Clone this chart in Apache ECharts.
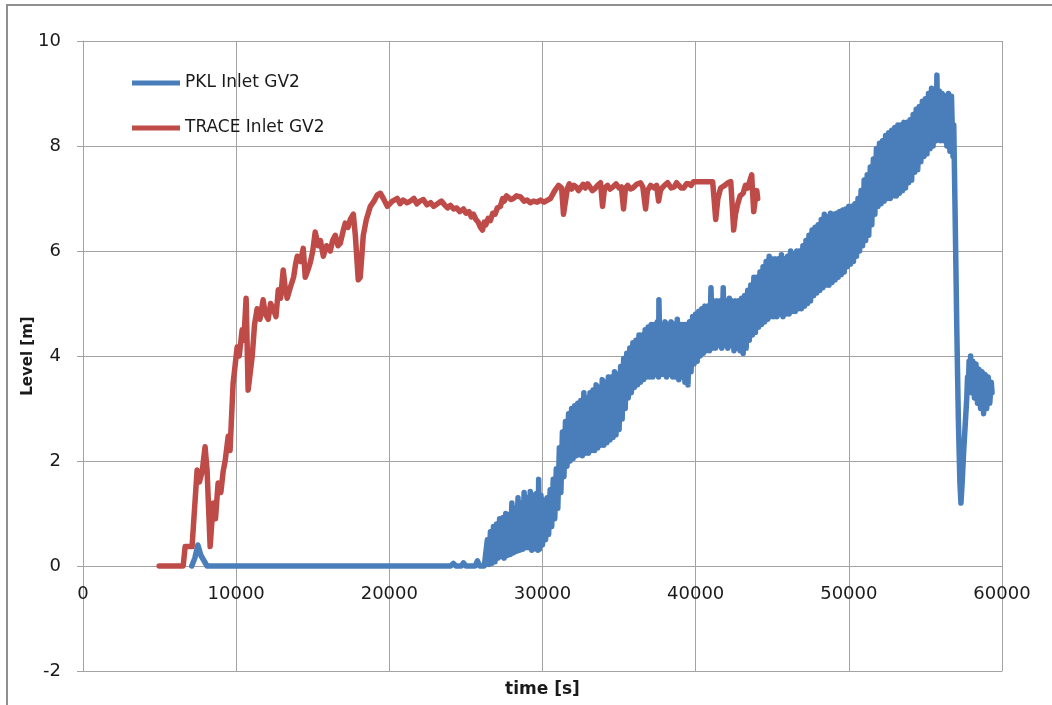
<!DOCTYPE html>
<html>
<head>
<meta charset="utf-8">
<script src="https://cdn.jsdelivr.net/npm/echarts@6/dist/echarts.min.js"></script>
<style>html,body{margin:0;padding:0;background:#fff;}#c{width:1052px;height:705px;}</style>
</head>
<body>
<div id="c"></div>
<script>
var seriesNames = ['PKL Inlet GV2', 'TRACE Inlet GV2'];
var xTicks = [0, 10000, 20000, 30000, 40000, 50000, 60000];
var yTicks = [-2, 0, 2, 4, 6, 8, 10];

// PKL Inlet GV2 : [time s, level m]
var pkl = [
[7100,0],[7300,0.15],[7500,0.4],[7700,0.2],[7900,0.1],[8100,0],[24000,0],[24180,0.05],[24350,0],[24700,0],[24840,0.06],[25000,0],[25600,0],[25750,0.1],[25900,0],[26200,0],
[26300,0.0],[26400,0.5],[26500,0.03],[26600,0.65],[26700,0.05],[26800,0.75],[26900,0.08],[27000,0.8],
[27100,0.15],[27200,0.9],[27300,0.18],[27400,0.92],[27500,0.15],[27600,1.0],[27700,0.2],[27800,0.98],[27900,0.22],[28000,1.2],
[28100,0.25],[28200,1.1],[28300,0.28],[28400,1.3],[28500,0.3],[28600,1.2],[28700,0.32],[28800,1.4],[28900,0.35],[29000,1.3],
[29100,0.35],[29200,1.42],[29300,0.3],[29400,1.35],[29500,0.33],[29600,1.38],[29700,0.3],[29750,1.65],[29800,0.32],[29900,1.35],
[30000,0.4],[30100,1.25],[30200,0.5],[30300,1.3],[30400,0.6],[30500,1.45],[30600,0.75],[30700,1.65],[30800,0.9],[30900,1.85],
[31000,1.1],[31100,2.25],[31200,1.4],[31300,2.55],[31400,1.7],[31500,2.75],[31600,1.9],[31700,2.9],[31800,2.0],[31900,3.0],
[32000,2.05],[32100,3.05],[32200,2.1],[32300,3.1],[32400,2.12],[32500,3.15],[32600,2.1],[32700,3.3],[32800,2.15],[32900,3.2],
[33000,2.15],[33100,3.3],[33200,2.2],[33300,3.35],[33400,2.2],[33500,3.45],[33600,2.25],[33700,3.4],[33800,2.3],[33900,3.55],
[34000,2.3],[34100,3.5],[34200,2.35],[34300,3.6],[34400,2.4],[34500,3.6],[34600,2.45],[34700,3.7],[34800,2.5],[34900,3.65],
[35000,2.6],[35100,3.8],[35200,2.8],[35300,3.95],[35400,3.0],[35500,4.05],[35600,3.2],[35700,4.15],[35800,3.3],[35900,4.25],
[36000,3.4],[36100,4.3],[36200,3.45],[36300,4.4],[36400,3.5],[36500,4.4],[36600,3.55],[36700,4.5],[36800,3.6],[36900,4.55],
[37000,3.6],[37100,4.6],[37200,3.6],[37300,4.6],[37400,3.65],[37500,4.65],[37580,3.6],[37600,5.07],[37700,3.65],[37800,4.6],[37900,3.65],
[38000,4.65],[38100,3.6],[38200,4.6],[38300,3.65],[38400,4.65],[38500,3.6],[38600,4.6],[38700,3.6],[38800,4.7],[38900,3.55],
[39000,4.6],[39100,3.6],[39200,4.6],[39300,3.5],[39400,4.6],[39500,3.45],[39600,4.65],[39700,3.7],[39800,4.75],[39900,3.85],
[40000,4.8],[40100,3.9],[40200,4.85],[40300,4.0],[40400,4.9],[40500,4.05],[40600,4.95],[40700,4.1],[40800,4.95],[40900,4.1],
[41000,5.3],[41100,4.15],[41200,5.05],[41300,4.15],[41400,5.05],[41500,4.2],[41600,5.05],[41700,4.15],[41800,5.3],[41900,4.2],
[42000,5.05],[42100,4.15],[42200,5.1],[42300,4.2],[42400,5.05],[42500,4.1],[42600,5.05],[42700,4.15],[42800,5.05],[42900,4.1],
[43000,5.1],[43100,4.05],[43200,5.15],[43300,4.15],[43400,5.25],[43500,4.3],[43600,5.35],[43700,4.4],[43800,5.5],[43900,4.45],
[44000,5.5],[44100,4.55],[44200,5.6],[44300,4.6],[44400,5.7],[44500,4.65],[44600,5.8],[44700,4.7],[44800,5.9],[44900,4.75],
[45000,5.85],[45100,4.75],[45200,5.85],[45300,4.75],[45400,5.85],[45500,4.8],[45600,5.93],[45700,4.75],[45800,5.85],[45900,4.8],
[46000,5.9],[46100,4.8],[46200,6.0],[46300,4.85],[46400,5.95],[46500,4.85],[46600,6.0],[46700,4.9],[46800,6.0],[46900,4.9],
[47000,6.1],[47100,4.95],[47200,6.2],[47300,5.0],[47400,6.3],[47500,5.05],[47600,6.4],[47700,5.15],[47800,6.45],[47900,5.2],
[48000,6.5],[48100,5.25],[48200,6.6],[48300,5.3],[48400,6.7],[48500,5.35],[48600,6.65],[48700,5.35],[48800,6.72],[48900,5.4],
[49000,6.7],[49100,5.45],[49200,6.72],[49300,5.5],[49400,6.75],[49500,5.55],[49600,6.78],[49700,5.6],[49800,6.8],[49900,5.7],
[50000,6.85],[50100,5.75],[50200,6.85],[50300,5.8],[50400,6.9],[50500,5.9],[50600,7.0],[50700,6.0],[50800,7.15],[50900,6.1],
[51000,7.35],[51100,6.2],[51200,7.45],[51300,6.3],[51400,7.6],[51500,6.5],[51600,7.75],[51700,6.7],[51800,7.95],[51900,6.85],
[52000,8.05],[52100,6.9],[52200,8.1],[52300,6.95],[52400,8.2],[52500,7.0],[52600,8.25],[52700,7.0],[52800,8.3],[52900,7.05],
[53000,8.35],[53100,7.05],[53200,8.4],[53300,7.1],[53400,8.4],[53500,7.15],[53600,8.45],[53700,7.2],[53800,8.45],[53900,7.3],
[54000,8.5],[54100,7.35],[54200,8.6],[54300,7.5],[54400,8.7],[54500,7.55],[54600,8.75],[54700,7.7],[54800,8.85],[54900,7.8],
[55000,8.9],[55100,7.85],[55200,9.0],[55300,7.95],[55400,9.1],[55500,8.0],[55600,9.05],[55700,8.1],[55750,9.35],[55800,8.15],[55900,9.05],
[56000,8.1],[56100,9.0],[56200,8.1],[56300,8.95],[56400,8.0],[56500,9.0],[56600,7.9],[56700,8.95],[56800,7.8],[56850,8.4],
[56950,6.5],[57050,4.5],[57150,2.8],[57250,1.6],[57320,1.2],[57400,1.6],[57500,2.2],[57600,2.7],[57700,3.2],[57750,3.6],
[57800,3.3],[57850,3.9],[57900,3.4],[57950,4.0],[58000,3.3],[58100,3.9],[58200,3.2],[58300,3.85],[58400,3.1],[58500,3.75],
[58600,3.0],[58700,3.7],[58800,2.9],[58900,3.65],[59000,3.0],[59100,3.6],[59200,3.1],[59300,3.5],[59350,3.3]
];

// TRACE Inlet GV2 : [time s, level m]
var trace = [
[4970,0],[6540,0],[6670,0.37],[7120,0.37],[7450,1.83],[7600,1.6],[7780,1.8],[7970,2.27],[8100,1.83],[8300,0.37],[8500,1.2],
[8650,0.9],[8820,1.58],[9000,1.4],[9150,1.8],[9280,2.0],[9480,2.47],[9600,2.2],[9800,3.48],[10065,4.17],[10200,4.0],[10390,4.5],
[10500,4.3],[10650,5.1],[10780,3.35],[11050,4.0],[11200,4.6],[11370,4.9],[11550,4.7],[11760,5.07],[11900,4.8],[12090,4.7],[12250,5.0],[12420,4.9],[12600,4.75],
[12750,5.26],[12900,5.1],[13070,5.64],[13200,5.3],[13330,5.1],[13530,5.3],[13750,5.5],[13880,5.75],[13990,5.9],[14200,5.8],[14380,6.05],[14510,5.5],[14700,5.65],[14840,5.78],
[15000,6.0],[15160,6.36],[15360,6.1],[15500,6.2],[15690,5.9],[15900,6.1],[16140,6.0],[16300,6.2],[16470,6.3],[16650,6.1],[16800,6.15],[17000,6.4],[17120,6.53],[17300,6.45],[17450,6.6],[17650,6.7],
[17780,6.3],[17970,5.45],[18100,5.5],[18300,6.3],[18500,6.6],[18760,6.85],[19000,6.95],[19220,7.07],[19410,7.1],[19610,7.0],
[19870,6.85],[20200,6.95],[20520,7.0],[20700,6.9],[20900,6.97],[21150,6.92],[21370,6.95],[21600,7.0],[21800,6.9],[22000,6.95],[22220,6.98],[22450,6.88],[22700,6.92],[22900,6.85],[23140,6.9],[23400,6.95],[23600,6.88],
[23800,6.82],[23990,6.87],[24200,6.8],[24400,6.82],[24600,6.75],[24840,6.8],[25000,6.72],[25200,6.75],[25350,6.65],[25490,6.7],[25650,6.6],[25800,6.55],[25950,6.45],[26080,6.4],[26200,6.55],[26300,6.5],[26450,6.62],[26600,6.58],[26750,6.72],[26900,6.7],
[27050,6.82],[27250,6.85],[27400,7.0],[27500,6.95],[27650,7.05],[27780,7.08],[27950,6.98],[28100,7.0],[28300,7.05],[28560,7.03],[28800,6.95],[29000,6.97],[29200,6.92],[29410,6.95],[29650,6.93],[29870,6.97],[30100,6.93],[30330,6.97],[30520,7.0],
[30800,7.15],[31050,7.25],[31250,7.2],[31370,6.7],[31630,7.2],[31750,7.28],[31900,7.18],[32050,7.25],[32200,7.22],[32350,7.15],[32480,7.16],[32650,7.27],[32800,7.2],[32950,7.28],[33100,7.22],
[33250,7.15],[33400,7.18],[33600,7.25],[33790,7.3],[33920,6.85],[34050,7.2],[34250,7.25],[34400,7.18],[34600,7.22],[34800,7.28],[35000,7.2],[35150,7.22],[35290,6.8],[35420,7.2],[35560,7.25],[35750,7.18],[35900,7.2],[36150,7.27],[36400,7.3],
[36550,7.22],[36730,6.8],[36850,7.15],[37060,7.25],[37300,7.2],[37450,7.25],[37580,6.95],[37700,7.15],[37800,7.2],[38000,7.26],[38170,7.3],[38400,7.2],[38600,7.22],[38750,7.3],[38900,7.25],[39050,7.2],[39220,7.2],[39400,7.28],[39550,7.28],[39700,7.25],
[39870,7.32],[40500,7.32],[41110,7.32],[41200,7.0],[41310,6.6],[41450,7.0],[41630,7.2],[41900,7.25],[42100,7.3],[42290,7.32],[42380,6.9],[42480,6.4],[42600,6.7],[42750,6.9],[42900,7.05],[43100,7.1],
[43250,7.25],[43400,7.2],[43550,7.35],[43660,7.45],[43700,7.2],[43790,6.75],[43900,7.0],[43990,7.15],[44050,7.0]
];

var fmt = function (v) { return String(v); };
var chart = echarts.init(document.getElementById('c'), null, {renderer: 'canvas'});
var gridColor = '#a3a3a3';
var txt = '#1a1a1a';
var xMin = xTicks[0], xMax = xTicks[xTicks.length - 1];
chart.setOption({
  animation: false,
  backgroundColor: '#ffffff',
  textStyle: {fontFamily: 'DejaVu Sans'},
  graphic: [{
    type: 'rect', silent: true,
    shape: {x: 7, y: 5, width: 2000, height: 2000},
    style: {fill: 'none', stroke: '#8f8f8f', lineWidth: 2}
  }],
  grid: {left: 83, right: 50, top: 41, bottom: 34, containLabel: false, outerBoundsMode: 'none'},
  legend: {
    orient: 'vertical',
    left: 127, top: 68,
    itemWidth: 48, itemHeight: 5, itemGap: 25,
    icon: 'rect',
    data: seriesNames,
    textStyle: {fontFamily: 'DejaVu Sans', fontSize: 17, color: txt, lineHeight: 20}
  },
  xAxis: [{
    type: 'value', min: xMin, max: xMax, interval: 10000, position: 'bottom',
    name: 'time [s]', nameLocation: 'middle', nameGap: 10, nameMoveOverlap: false,
    nameTextStyle: {fontFamily: 'DejaVu Sans', fontSize: 17, fontWeight: 'bold', color: txt},
    axisLine: {show: true, onZero: false, lineStyle: {color: gridColor, width: 1}},
    axisTick: {show: false},
    axisLabel: {show: false},
    splitLine: {show: true, lineStyle: {color: gridColor, width: 1}}
  }, {
    type: 'value', min: xMin, max: xMax, interval: 10000, position: 'bottom', offset: -105,
    axisLine: {show: true, onZero: false, lineStyle: {color: gridColor, width: 1}},
    axisTick: {show: false},
    axisLabel: {margin: 19, fontFamily: 'DejaVu Sans', fontSize: 18, color: txt, showMinLabel: true, showMaxLabel: true, formatter: fmt},
    splitLine: {show: false}
  }],
  yAxis: {
    type: 'value', min: yTicks[0], max: yTicks[yTicks.length - 1], interval: 2,
    name: 'Level [m]', nameLocation: 'middle', nameGap: 47, nameMoveOverlap: false,
    nameTextStyle: {fontFamily: 'DejaVu Sans', fontSize: 15, fontWeight: 'bold', color: txt},
    axisLine: {show: true, onZero: false, lineStyle: {color: gridColor, width: 1}},
    axisTick: {show: true, length: 6, inside: false, lineStyle: {color: gridColor}},
    axisLabel: {margin: 22, fontFamily: 'DejaVu Sans', fontSize: 18, color: txt, formatter: fmt},
    splitLine: {show: true, lineStyle: {color: gridColor, width: 1}}
  },
  series: [
    {name: seriesNames[0], type: 'line', xAxisIndex: 0, data: pkl, showSymbol: false, symbol: 'none',
     color: '#4a7ebb', lineStyle: {color: '#4a7ebb', width: 5.5, join: 'round', cap: 'round'}},
    {name: seriesNames[1], type: 'line', xAxisIndex: 0, data: trace, showSymbol: false, symbol: 'none',
     color: '#be4b48', lineStyle: {color: '#be4b48', width: 5.5, join: 'round', cap: 'round'}}
  ]
});
</script>
</body>
</html>
